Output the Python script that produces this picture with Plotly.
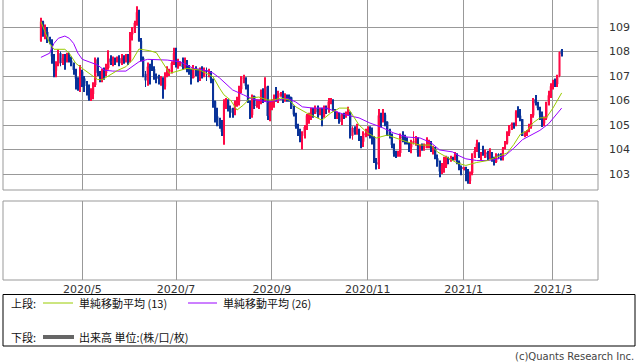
import plotly.graph_objects as go
import pandas as pd

# ---------------- data ----------------
dates = [d.strftime('%Y-%m-%d') for d in pd.bdate_range('2020-04-06', '2021-03-05')]

opens = [
    108.45,109.22,108.78,108.80,108.49,108.45,107.80,107.22,107.48,107.93,107.53,107.73,107.65,107.78,107.63,107.51,107.25,106.89,106.63,
    107.18,106.90,106.71,106.59,106.08,106.26,106.63,107.68,107.13,107.00,107.25,107.12,107.33,107.71,107.56,107.61,107.60,107.72,107.52,107.73,107.63,
    107.83,107.60,108.70,108.90,109.17,109.60,108.44,107.74,107.09,106.82,107.38,107.34,107.29,107.00,106.93,106.88,106.92,106.57,107.05,107.18,107.21,107.53,
    107.93,107.48,107.50,107.52,107.37,107.52,107.24,107.22,106.92,107.30,107.25,106.98,107.23,107.01,107.24,107.18,107.19,106.85,105.97,105.35,105.04,104.95,104.72,
    105.88,105.97,105.68,105.55,105.52,105.93,105.94,106.46,106.89,106.92,106.60,105.98,105.41,106.18,105.78,105.80,105.96,106.39,106.02,106.57,105.37,
    105.90,105.98,106.17,106.15,106.24,106.26,106.09,106.17,106.16,106.13,105.72,105.43,104.92,104.69,104.56,104.66,104.92,105.39,105.41,105.59,105.53,105.69,
    105.46,105.52,105.35,105.72,105.65,105.96,106.00,105.62,105.32,105.47,105.13,105.40,105.38,105.44,105.52,104.56,104.88,104.70,104.84,104.43,104.32,104.63,
    104.66,104.73,104.52,104.50,103.48,103.39,105.39,105.31,105.42,105.13,104.63,104.56,104.19,103.83,103.80,103.86,104.53,104.47,104.45,104.26,104.09,
    104.30,104.33,104.45,103.87,104.18,104.06,104.16,104.20,104.25,104.02,104.06,103.64,103.48,103.10,103.32,103.34,103.60,103.58,103.65,103.65,103.79,103.49,103.27,
    103.23,103.23,103.13,102.72,103.04,103.81,103.94,104.24,103.75,103.88,103.85,103.87,103.67,103.88,103.55,103.49,103.77,103.76,103.61,104.04,104.25,
    104.66,104.94,105.04,105.01,105.52,105.38,105.24,104.56,104.58,104.75,104.92,105.39,106.05,105.89,105.69,105.42,105.07,105.27,105.87,106.21,
    106.58,106.76,106.67,107.00,108.05,
]
highs = [
    109.38,109.25,109.10,109.00,108.60,108.50,107.90,107.60,108.08,108.00,107.90,107.90,107.95,107.95,107.80,107.55,107.30,106.95,107.45,
    107.25,107.00,106.80,106.65,106.50,106.75,107.75,107.75,107.20,107.30,107.35,107.50,108.05,107.85,107.80,107.75,107.80,107.85,107.90,107.85,107.90,
    107.90,108.80,109.00,109.25,109.85,109.70,108.55,107.80,107.20,107.55,107.50,107.65,107.40,107.10,107.05,107.00,106.95,107.15,107.40,107.30,107.60,108.15,
    108.15,107.70,107.60,107.75,107.75,107.65,107.45,107.30,107.45,107.40,107.30,107.35,107.40,107.35,107.35,107.30,107.20,106.90,106.00,105.70,105.30,105.20,106.05,
    106.10,106.05,105.80,105.70,106.00,106.15,106.60,107.00,107.05,106.95,106.65,106.00,106.25,106.20,106.05,106.05,106.45,106.50,106.95,106.60,106.00,
    106.05,106.25,106.55,106.40,106.35,106.40,106.30,106.25,106.25,106.15,105.80,105.50,105.05,104.85,104.75,105.00,105.45,105.50,105.70,105.70,105.80,105.80,
    105.70,105.70,105.80,105.80,106.10,106.10,106.05,105.65,105.55,105.50,105.45,105.50,105.55,105.75,105.55,104.95,104.95,105.05,104.85,104.55,104.75,104.85,
    104.95,104.95,104.90,104.55,103.65,105.65,105.50,105.65,105.50,105.15,104.85,104.65,104.25,103.95,103.95,104.65,104.75,104.60,104.50,104.30,104.40,
    104.75,104.55,104.50,104.20,104.25,104.25,104.50,104.40,104.35,104.15,104.10,103.80,103.55,103.45,103.70,103.75,103.70,103.75,103.70,103.90,103.85,103.55,103.35,
    103.30,103.30,103.20,103.10,103.85,104.10,104.40,104.30,103.90,104.15,104.00,103.95,104.05,103.90,103.70,103.85,103.85,103.85,104.10,104.35,104.75,
    105.00,105.10,105.10,105.60,105.77,105.65,105.25,104.75,104.80,105.05,105.45,106.10,106.22,105.95,105.75,105.55,105.35,105.95,106.40,106.70,
    106.85,106.90,107.05,108.00,108.10,
]
lows = [
    108.40,108.60,108.50,108.35,108.30,107.50,106.95,106.95,107.40,107.40,107.45,107.25,107.55,107.55,107.40,107.05,106.45,106.40,106.35,
    106.55,106.35,106.20,105.99,105.98,106.05,106.55,107.00,106.75,106.75,106.85,107.00,107.25,107.45,107.40,107.45,107.55,107.40,107.45,107.50,107.55,
    107.45,107.55,108.45,108.75,109.05,108.40,107.60,106.95,106.55,106.60,106.65,107.20,106.85,106.70,106.65,106.60,106.07,106.45,106.95,107.00,107.10,107.45,
    107.35,107.30,107.40,107.25,107.30,107.15,107.05,106.65,106.90,107.00,106.75,106.80,106.90,106.95,106.80,106.95,106.70,105.70,105.10,104.95,104.85,104.55,104.19,
    105.65,105.55,105.30,105.30,105.40,105.75,105.80,106.30,106.70,106.45,105.90,105.25,105.30,105.65,105.70,105.65,105.85,105.90,105.95,105.20,105.15,
    105.60,105.70,105.95,105.90,106.15,105.90,105.95,105.95,105.95,105.65,105.35,104.85,104.55,104.30,104.00,104.45,104.80,105.05,105.20,105.30,105.45,105.30,
    105.40,104.95,105.30,105.45,105.50,105.85,105.55,105.25,105.25,105.05,105.00,105.25,105.30,105.40,104.45,104.40,104.60,104.60,104.35,104.05,104.10,104.50,
    104.55,104.45,104.20,103.45,103.18,103.20,104.90,105.10,104.95,104.55,104.45,104.05,103.70,103.65,103.70,103.70,104.30,104.20,104.20,103.90,103.85,
    104.20,104.15,103.70,103.70,103.95,103.95,104.05,104.05,103.90,103.80,103.60,103.30,102.87,103.00,103.05,103.25,103.40,103.50,103.55,103.55,103.40,103.15,102.95,
    103.15,102.70,102.60,102.59,102.95,103.65,103.90,103.65,103.55,103.75,103.65,103.55,103.60,103.50,103.35,103.45,103.60,103.55,103.55,104.00,104.20,
    104.55,104.80,104.85,104.95,105.30,105.15,104.55,104.50,104.55,104.70,104.85,105.30,105.80,105.60,105.20,104.92,104.95,105.20,105.80,106.10,
    106.45,106.55,106.55,106.95,107.80,
]
closes = [
    109.22,108.78,108.80,108.49,108.45,107.80,107.22,107.48,107.93,107.53,107.73,107.65,107.78,107.63,107.51,107.25,106.89,106.63,107.18,
    106.90,106.71,106.59,106.08,106.26,106.63,107.68,107.13,107.00,107.25,107.12,107.33,107.71,107.56,107.61,107.60,107.72,107.52,107.73,107.63,107.83,
    107.60,108.70,108.90,109.17,109.60,108.44,107.74,107.09,106.82,107.38,107.34,107.29,107.00,106.93,106.88,106.92,106.57,107.05,107.18,107.21,107.53,107.93,
    107.48,107.50,107.52,107.37,107.52,107.24,107.22,106.92,107.30,107.25,106.98,107.23,107.01,107.24,107.18,107.19,106.85,105.97,105.35,105.04,104.95,104.72,105.88,
    105.97,105.68,105.55,105.52,105.93,105.94,106.46,106.89,106.92,106.60,105.98,105.41,106.18,105.78,105.80,105.96,106.39,106.02,106.57,105.37,105.90,
    105.98,106.17,106.15,106.24,106.26,106.09,106.17,106.16,106.13,105.72,105.43,104.92,104.69,104.56,104.66,104.92,105.39,105.41,105.59,105.53,105.69,105.46,
    105.52,105.35,105.72,105.65,105.96,106.00,105.62,105.32,105.47,105.13,105.40,105.38,105.44,105.52,104.56,104.88,104.70,104.84,104.43,104.32,104.63,104.66,
    104.73,104.52,104.50,103.48,103.39,105.39,105.31,105.42,105.13,104.63,104.56,104.19,103.83,103.80,103.86,104.53,104.47,104.45,104.26,104.09,104.30,
    104.33,104.45,103.87,104.18,104.06,104.16,104.20,104.25,104.02,104.06,103.64,103.48,103.10,103.32,103.34,103.60,103.58,103.65,103.62,103.79,103.49,103.27,103.23,
    103.25,103.13,102.72,103.04,103.81,103.94,104.24,103.75,103.88,103.85,103.87,103.67,103.88,103.55,103.49,103.77,103.76,103.61,104.04,104.25,104.66,
    104.94,105.04,105.01,105.52,105.38,105.24,104.56,104.58,104.75,104.92,105.39,106.05,105.89,105.69,105.42,105.07,105.27,105.87,106.21,106.58,
    106.76,106.67,107.00,107.98,107.90,
]

# moving averages at sample bars (bar index, value)
ma13_idx = [0, 4, 6, 11, 13, 16, 19, 23, 26, 28, 32, 35, 39, 42, 45, 50, 53, 56, 59, 62, 67, 73, 79, 82,
            84, 87, 90, 93, 96, 100, 104, 107, 110, 114, 117, 122, 127, 129, 133, 137, 141, 143, 146, 150,
            154, 159, 163, 168, 174, 179, 182, 186, 191, 195, 200, 205, 209, 214, 217, 220, 223, 226, 229,
            232, 235, 238, 239]
ma13 = [109.22, 108.33, 108.09, 108.09, 107.93, 107.52, 107.31, 107.04, 106.86, 106.84, 107.04, 107.22,
        107.38, 107.65, 108.10, 108.03, 107.95, 107.52, 107.11, 107.18, 107.31, 107.24, 106.97, 106.50,
        106.23, 106.02, 105.61, 105.82, 106.10, 106.14, 106.02, 106.02, 106.10, 106.02, 105.74, 105.49,
        105.29, 105.20, 105.49, 105.69, 105.69, 105.41, 105.00, 104.67, 104.47, 104.59, 104.47, 104.31,
        104.18, 104.18, 103.90, 103.69, 103.45, 103.35, 103.47, 103.55, 103.69, 103.86, 104.20, 104.62,
        104.76, 105.10, 105.29, 105.30, 105.69, 106.14, 106.31]
ma26_idx = [0, 4, 6, 8, 11, 13, 15, 17, 19, 22, 26, 29, 33, 39, 42, 45, 49, 55, 58, 64, 70, 76, 79, 82,
            88, 93, 97, 104, 108, 113, 117, 120, 125, 131, 136, 140, 146, 151, 156, 162, 168, 174, 179,
            183, 189, 191, 195, 200, 205, 209, 213, 217, 221, 226, 229, 233, 236, 239]
ma26 = [107.76, 107.93, 108.33, 108.54, 108.63, 108.54, 108.33, 107.93, 107.68, 107.59, 107.45, 107.24,
        107.20, 107.20, 107.38, 107.58, 107.68, 107.68, 107.65, 107.58, 107.31, 107.22, 107.12, 106.92,
        106.43, 106.23, 106.06, 105.94, 106.02, 106.09, 105.94, 105.74, 105.69, 105.69, 105.53, 105.41,
        105.29, 105.08, 104.92, 104.67, 104.51, 104.47, 104.28, 103.98, 103.90, 103.78, 103.62, 103.55,
        103.55, 103.60, 103.75, 104.05, 104.40, 104.62, 104.78, 105.05, 105.35, 105.69]

price_ticks = [103, 104, 105, 106, 107, 108, 109]
month_ticks = ['2020-05-01', '2020-07-01', '2020-09-01', '2020-11-02', '2021-01-01', '2021-03-01']
month_labels = ['2020/5', '2020/7', '2020/9', '2020/11', '2021/1', '2021/3']

# ---------------- styling ----------------
W, H = 638, 362
UP, DOWN = '#ff0a46', '#0a3399'
GREEN, PURPLE, GRID = '#99cc00', '#9a00ff', '#999999'
AXFONT = dict(family='DejaVu Sans', size=11, color='#333333')
JPFONT = dict(family='Noto Sans CJK JP', size=11, color='#111111')

def fx(p):
    return p / W

def fy(p):
    return 1 - p / H

colors = [UP if c >= o else DOWN for o, c in zip(opens, closes)]
body_base = [min(o, c) for o, c in zip(opens, closes)]
body_h = [max(abs(c - o), 0.03) for o, c in zip(opens, closes)]
wick_h = [h - l for h, l in zip(highs, lows)]

fig = go.Figure()
fig.add_trace(go.Bar(x=dates, base=lows, y=wick_h, width=0.45,
                     marker=dict(color=colors, line=dict(width=0)), hoverinfo='skip'))
fig.add_trace(go.Bar(x=dates, base=body_base, y=body_h, width=0.95,
                     marker=dict(color=colors, line=dict(width=0)), hoverinfo='skip'))
fig.add_trace(go.Scatter(x=[dates[i] for i in ma26_idx], y=ma26, mode='lines',
                         line=dict(color=PURPLE, width=1), hoverinfo='skip'))
fig.add_trace(go.Scatter(x=[dates[i] for i in ma13_idx], y=ma13, mode='lines',
                         line=dict(color=GREEN, width=1), hoverinfo='skip'))
# lower (volume) panel: empty
fig.add_trace(go.Scatter(x=dates, y=[None] * len(dates), xaxis='x2', yaxis='y2',
                         mode='lines', hoverinfo='skip'))

x_left, x_right = 3, 598
bar0_px, step = 40.9, 2.179
xr = [(x_left - bar0_px) / step, (x_right - bar0_px) / step]

common_x = dict(type='category', range=xr, tickvals=month_ticks, showgrid=True,
                gridcolor=GRID, gridwidth=1, zeroline=False, showline=False,
                ticks='', automargin=False, fixedrange=True)

fig.update_layout(
    width=W, height=H, template='none',
    margin=dict(l=0, r=0, t=0, b=0, autoexpand=False),
    paper_bgcolor='white', plot_bgcolor='white',
    showlegend=False, barmode='overlay', hovermode=False,
    xaxis=dict(domain=[fx(x_left), fx(x_right)], anchor='y', showticklabels=False, **common_x),
    yaxis=dict(domain=[fy(190), 1], range=[102.347, 110.102], side='right',
               tickvals=price_ticks, showgrid=True, gridcolor=GRID, gridwidth=1,
               zeroline=False, showline=False, ticks='', tickfont=AXFONT,
               ticklabelstandoff=10, automargin=False, fixedrange=True),
    xaxis2=dict(domain=[fx(x_left), fx(x_right)], anchor='y2', matches='x',
                ticktext=month_labels, showticklabels=True, tickfont=AXFONT,
                ticklabelstandoff=1, **common_x),
    yaxis2=dict(domain=[fy(280), fy(201)], range=[0, 1], showgrid=False,
                showticklabels=False, zeroline=False, showline=False,
                automargin=False, fixedrange=True),
)

shapes = []
def pline(x0, y0, x1, y1, color=GRID, width=1):
    shapes.append(dict(type='line', xref='paper', yref='paper', x0=fx(x0), y0=fy(y0),
                       x1=fx(x1), y1=fy(y1), line=dict(color=color, width=width)))

# main panel frame (left, right, bottom)
pline(x_left, 0, x_left, 190)
pline(x_right, 0, x_right, 190)
pline(x_left, 190, x_right, 190)
# lower panel frame
shapes.append(dict(type='rect', xref='paper', yref='paper', x0=fx(x_left), y0=fy(280),
                   x1=fx(x_right), y1=fy(201), line=dict(color=GRID, width=1)))
# legend box
shapes.append(dict(type='rect', xref='paper', yref='paper', x0=fx(3), y0=fy(346),
                   x1=fx(635), y1=fy(294.5), line=dict(color='#000000', width=1)))
pline(43, 303, 73, 303, GREEN, 1)
pline(188, 303, 217, 303, PURPLE, 1)
pline(43, 337, 74, 337, '#666666', 4)
fig.update_layout(shapes=shapes)

def text(x, y, s, font, anchor='left'):
    fig.add_annotation(x=fx(x), y=fy(y), xref='paper', yref='paper', text=s,
                       showarrow=False, xanchor=anchor, yanchor='middle', font=font)

text(9, 303, '上段:', JPFONT)
text(77, 303, '単純移動平均 (13)', JPFONT)
text(221, 303, '単純移動平均 (26)', JPFONT)
text(9, 337, '下段:', JPFONT)
text(77, 337, '出来高 単位:(株/口/枚)', JPFONT)
text(636, 356, '(c)Quants Research Inc.', dict(family='DejaVu Sans', size=10, color='#444444'), anchor='right')

fig.write_html('out.html')
